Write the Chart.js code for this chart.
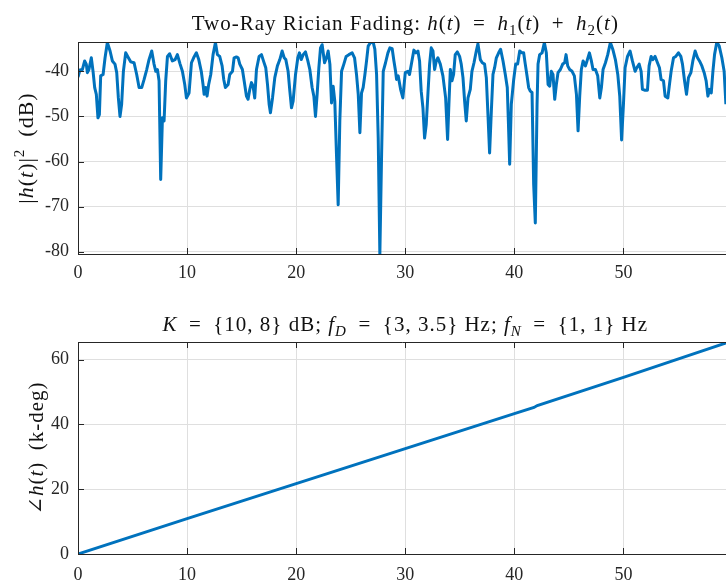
<!DOCTYPE html>
<html>
<head>
<meta charset="utf-8">
<script src="https://cdn.jsdelivr.net/npm/chart.js@4.4.1/dist/chart.umd.min.js"></script>
<style>
  html, body { margin: 0; padding: 0; background: #fff; }
  #wrap { position: relative; width: 726px; height: 582px; overflow: hidden; }
  canvas { position: absolute; left: 0; }
</style>
</head>
<body>
<div id="wrap">
  <canvas id="magChart" width="726" height="291" style="top:0"></canvas>
  <canvas id="phaseChart" width="726" height="291" style="top:291px"></canvas>
</div>
<script>
// time (s) and |h(t)|^2 in dB
const tMag = [0,0.18,0.4,0.61,0.76,0.86,1.0,1.22,1.38,1.53,1.68,1.83,1.96,2.08,2.3,2.48,2.69,2.94,3.15,3.39,3.55,3.7,3.85,4.0,4.16,4.37,4.62,4.83,5.14,5.38,5.6,5.84,6.06,6.3,6.51,6.76,6.97,7.13,7.28,7.43,7.58,7.74,7.89,8.04,8.2,8.4,8.65,8.9,9.11,9.36,9.57,9.79,9.94,10.18,10.4,10.6,10.85,11.07,11.3,11.46,11.56,11.71,11.83,11.98,12.17,12.38,12.6,12.78,12.99,13.21,13.36,13.51,13.76,13.91,14.16,14.31,14.52,14.68,14.83,15.07,15.23,15.44,15.59,15.75,15.9,16.05,16.2,16.36,16.6,16.82,17.03,17.21,17.37,17.52,17.64,17.83,18.04,18.28,18.5,18.71,18.9,19.05,19.26,19.42,19.57,19.72,19.94,20.15,20.3,20.46,20.64,20.85,21.07,21.25,21.46,21.62,21.77,21.92,22.08,22.23,22.38,22.6,22.78,22.93,23.09,23.24,23.39,23.54,23.7,23.85,24.0,24.16,24.37,24.58,24.83,25.13,25.35,25.53,25.69,25.84,25.99,26.14,26.3,26.45,26.6,26.82,27.06,27.21,27.37,27.52,27.67,27.83,27.98,28.19,28.41,28.59,28.8,28.96,29.11,29.2,29.35,29.57,29.78,30.0,30.24,30.39,30.61,30.79,30.98,31.16,31.31,31.46,31.62,31.77,31.92,32.08,32.23,32.38,32.54,32.69,32.84,32.99,33.21,33.45,33.7,33.88,34.0,34.13,34.28,34.43,34.58,34.77,34.98,35.13,35.29,35.44,35.59,35.75,35.96,36.11,36.3,36.51,36.66,36.88,37.06,37.27,37.43,37.58,37.73,37.89,38.04,38.19,38.35,38.56,38.74,38.96,39.17,39.35,39.45,39.57,39.72,39.94,40.12,40.3,40.49,40.7,40.85,41.0,41.16,41.31,41.46,41.62,41.77,41.92,42.08,42.17,42.32,42.54,42.75,42.93,43.09,43.24,43.39,43.54,43.7,43.85,44.0,44.22,44.43,44.61,44.74,44.89,45.07,45.29,45.5,45.69,45.84,45.99,46.14,46.3,46.51,46.66,46.88,47.06,47.21,47.43,47.64,47.83,47.98,48.13,48.35,48.56,48.8,49.02,49.26,49.48,49.66,49.83,50.0,50.15,50.37,50.61,50.82,51.07,51.22,51.44,51.62,51.74,51.99,52.2,52.35,52.54,52.69,52.9,53.12,53.3,53.45,53.67,53.82,54.07,54.22,54.37,54.59,54.8,55.04,55.26,55.41,55.6,55.78,55.96,56.18,56.36,56.57,56.79,56.97,57.19,57.4,57.58,57.74,57.89,58.05,58.2,58.35,58.56,58.78,59.02,59.23,59.39];
const magDb = [-41.3,-39.7,-39.6,-37.7,-38.4,-40.3,-39.6,-37,-40,-43.6,-45.1,-50.3,-49.6,-41,-40.7,-37,-33.6,-35.5,-37.7,-38.4,-40.3,-45.9,-50,-47.3,-40,-35.9,-37,-37.9,-38.1,-40.7,-43.6,-43.6,-41.8,-39.6,-37.4,-35.5,-38.4,-40,-39.6,-42.1,-64,-50.3,-51,-42.1,-36.7,-36.1,-37.7,-37.4,-36.3,-38.4,-40,-43,-45.9,-44.8,-38.1,-37,-35.9,-37.4,-40,-42.9,-45.1,-43.6,-45.5,-42.9,-40.7,-36.3,-33.6,-36.3,-36.7,-38.8,-41.8,-43.6,-42.9,-40.7,-40,-37,-36.8,-37,-38.4,-39.6,-42.1,-45.5,-46.2,-44,-42.5,-43.3,-45.9,-39.6,-36.7,-36.3,-37.9,-39.2,-42.9,-47.3,-49.2,-45.9,-41.4,-38.8,-37.4,-35.5,-37,-37.4,-40,-44.4,-48.1,-46.6,-40.7,-37,-35.9,-37.4,-36.3,-35.7,-37.7,-39.6,-43.6,-45.5,-50,-45.1,-39.2,-34.8,-34.1,-38.1,-37,-35.5,-38.4,-47,-43.3,-46.6,-58.8,-69.6,-51,-40,-38.4,-36.7,-36.3,-35.9,-37,-40.7,-45.1,-53.6,-44.8,-43.6,-40.7,-37.7,-34.4,-33.6,-33.6,-35.1,-40.7,-54.7,-80.5,-58.4,-40,-38.1,-35.9,-34.8,-35,-37.7,-40,-41.8,-41,-44,-45.9,-40.3,-40,-40.7,-37.7,-35.3,-35.9,-35.5,-37.7,-44.4,-48.1,-54.8,-51.8,-44.8,-38.4,-34.8,-35.5,-39.6,-37.7,-37,-38.4,-41,-45.9,-55.1,-47.3,-39.6,-42.1,-40.7,-36.3,-35.7,-36.7,-38.4,-41.4,-46.6,-51,-45.9,-44,-40,-38.1,-35.5,-33.9,-37.4,-38.1,-38.4,-41.4,-49.6,-58.1,-48.8,-40.7,-39.2,-37,-35.9,-35.1,-37.7,-40.7,-43.6,-51,-60.6,-47.3,-41.8,-38.4,-38.4,-35.5,-35.9,-35.9,-38.4,-41,-43.6,-44.4,-44.7,-65.1,-73.6,-47.3,-38.4,-36.3,-35.9,-33.6,-35.9,-42.9,-43.3,-40,-40.7,-46.2,-42.9,-40.3,-39.6,-38.4,-38.1,-36.3,-38.8,-39.6,-40,-41,-45.1,-53.2,-45.5,-39.6,-37.7,-38.8,-37.7,-35.9,-37.7,-39.6,-39.6,-41,-45.9,-43.6,-39.6,-38.1,-36.3,-33.6,-35.1,-37.4,-40.7,-45.5,-55.2,-47.3,-39.2,-36.7,-35.5,-37.7,-40,-39.2,-38.4,-40,-44,-44.2,-44.2,-38.8,-36.7,-37.4,-36.7,-38.1,-39.2,-41.8,-42.1,-45.5,-45.9,-42.9,-40,-37,-36.7,-35.9,-36.7,-38.4,-42.1,-45.1,-41.4,-40.3,-37.7,-35.5,-37,-37.7,-38.8,-40.3,-42.1,-45.5,-44,-44.8,-40,-36.3,-33.5,-34.4,-37,-40,-47.3];

// unwrapped phase in thousands of degrees
const tPhase = [0, 10, 20, 30, 40, 41.8, 42.1, 50, 59.4];
const phaseKdeg = [0, 10.9, 21.7, 32.5, 43.3, 45.2, 45.8, 54.5, 65.1];

const xLimits = [0, 59.4];
const magLimits = [-80.5, -33.5];
const phaseLimits = [0, 65.4];

const SERIF = '"Liberation Serif", "DejaVu Serif", serif';
const AXIS = '#262626';
const GRID = '#dfdfdf';
const BLUE = '#0072bd';
const SP = '\u2002'; // wider space round math operators

// draws text made of pieces, some italic, some sub/superscript
function drawRich(ctx, segs, x, y, angle, size, spacing) {
  const fontFor = s => `${s.i ? 'italic ' : ''}${s.s ? Math.round(size * 0.7) : size}px ${SERIF}`;
  ctx.save();
  ctx.letterSpacing = spacing + 'px';
  let total = 0;
  const widths = segs.map(s => {
    ctx.font = fontFor(s);
    const w = ctx.measureText(s.t).width;
    total += w;
    return w;
  });
  ctx.translate(x, y);
  ctx.rotate(angle);
  ctx.fillStyle = '#111';
  ctx.textAlign = 'left';
  ctx.textBaseline = 'alphabetic';
  let cx = -total / 2;
  segs.forEach((s, k) => {
    ctx.font = fontFor(s);
    const dy = s.s === 'sub' ? size * 0.25 : (s.s === 'sup' ? -size * 0.4 : 0);
    ctx.fillText(s.t, cx, dy);
    cx += widths[k];
  });
  ctx.restore();
}

// MATLAB style box, inward ticks, title and y label
const matlabAxes = {
  id: 'matlabAxes',
  afterDraw(chart, args, opts) {
    const ctx = chart.ctx;
    const a = chart.chartArea;
    const xs = chart.scales.x, ys = chart.scales.y;
    ctx.save();
    ctx.strokeStyle = AXIS;
    ctx.lineWidth = 1;
    ctx.beginPath();
    ctx.moveTo(a.left + 0.5, a.bottom + 0.5);
    ctx.lineTo(a.left + 0.5, a.top + 0.5);
    ctx.lineTo(a.right, a.top + 0.5);
    ctx.moveTo(a.left, a.bottom + 0.5);
    ctx.lineTo(a.right, a.bottom + 0.5);
    xs.ticks.forEach(t => {
      const px = Math.round(xs.getPixelForValue(t.value)) + 0.5;
      ctx.moveTo(px, a.bottom);
      ctx.lineTo(px, a.bottom - 6);
      ctx.moveTo(px, a.top);
      ctx.lineTo(px, a.top + 6);
    });
    ys.ticks.forEach(t => {
      const py = Math.round(ys.getPixelForValue(t.value)) + 0.5;
      ctx.moveTo(a.left, py);
      ctx.lineTo(a.left + 6, py);
    });
    ctx.stroke();
    const mid = (a.left + xs.getPixelForValue(60)) / 2;
    drawRich(ctx, opts.title, mid, opts.titleY, 0, opts.titleSize, 1);
    drawRich(ctx, opts.ylabel, opts.ylabelX, (a.top + a.bottom) / 2, -Math.PI / 2, opts.labelSize, 1);
    ctx.restore();
  }
};

function makeScales(yLim, xHeight, xPad) {
  return {
    x: {
      type: 'linear',
      min: xLimits[0],
      max: xLimits[1],
      border: { display: false },
      grid: { color: GRID, drawTicks: false },
      ticks: { stepSize: 10, includeBounds: false, maxRotation: 0, padding: xPad, color: AXIS, font: { family: SERIF, size: 18 } },
      afterFit: s => { s.height = xHeight; }
    },
    y: {
      type: 'linear',
      min: yLim[0],
      max: yLim[1],
      border: { display: false },
      grid: { color: GRID, drawTicks: false },
      ticks: { stepSize: 10, includeBounds: false, padding: 9, color: AXIS, font: { family: SERIF, size: 18 } },
      afterFit: s => { s.width = 78; }
    }
  };
}

const magChart = new Chart(document.getElementById('magChart'), {
  type: 'scatter',
  data: {
    datasets: [{
      data: tMag.map((t, i) => ({ x: t, y: magDb[i] })),
      showLine: true,
      borderColor: BLUE,
      borderWidth: 3,
      borderJoinStyle: 'round',
      pointRadius: 0,
      tension: 0
    }]
  },
  options: {
    responsive: false,
    animation: false,
    devicePixelRatio: 1,
    events: [],
    layout: { padding: { top: 42, right: 0, left: 0, bottom: 0 } },
    scales: makeScales(magLimits, 37, 8),
    plugins: {
      legend: { display: false },
      tooltip: { enabled: false },
      matlabAxes: {
        titleY: 30, titleSize: 21, ylabelX: 33, labelSize: 22,
        title: [
          { t: 'Two-Ray Rician Fading: ' }, { t: 'h', i: 1 }, { t: '(' }, { t: 't', i: 1 }, { t: ')' + SP + '=' + SP },
          { t: 'h', i: 1 }, { t: '1', s: 'sub' }, { t: '(' }, { t: 't', i: 1 }, { t: ')' + SP + '+' + SP },
          { t: 'h', i: 1 }, { t: '2', s: 'sub' }, { t: '(' }, { t: 't', i: 1 }, { t: ')' }
        ],
        ylabel: [
          { t: '|' }, { t: 'h', i: 1 }, { t: '(' }, { t: 't', i: 1 }, { t: ')|' }, { t: '2', s: 'sup' }, { t: SP + '(dB)' }
        ]
      }
    }
  },
  plugins: [matlabAxes]
});

// phase axis uses 20 k-deg steps
const phaseScales = makeScales(phaseLimits, 28, 10);
phaseScales.y.ticks.stepSize = 20;

const phaseChart = new Chart(document.getElementById('phaseChart'), {
  type: 'scatter',
  data: {
    datasets: [{
      data: tPhase.map((t, i) => ({ x: t, y: phaseKdeg[i] })),
      showLine: true,
      borderColor: BLUE,
      borderWidth: 3,
      pointRadius: 0,
      tension: 0
    }]
  },
  options: {
    responsive: false,
    animation: false,
    devicePixelRatio: 1,
    events: [],
    layout: { padding: { top: 51, right: 0, left: 0, bottom: 0 } },
    scales: phaseScales,
    plugins: {
      legend: { display: false },
      tooltip: { enabled: false },
      matlabAxes: {
        titleY: 40, titleSize: 21, ylabelX: 43, labelSize: 21,
        title: [
          { t: 'K', i: 1 }, { t: SP + '=' + SP + '{10, 8} dB; ' }, { t: 'f', i: 1 }, { t: 'D', i: 1, s: 'sub' },
          { t: SP + '=' + SP + '{3, 3.5} Hz; ' }, { t: 'f', i: 1 }, { t: 'N', i: 1, s: 'sub' }, { t: SP + '=' + SP + '{1, 1} Hz' }
        ],
        ylabel: [
          { t: '\u2220' }, { t: 'h', i: 1 }, { t: '(' }, { t: 't', i: 1 }, { t: ')' + SP + '(k-deg)' }
        ]
      }
    }
  },
  plugins: [matlabAxes]
});
</script>
</body>
</html>
